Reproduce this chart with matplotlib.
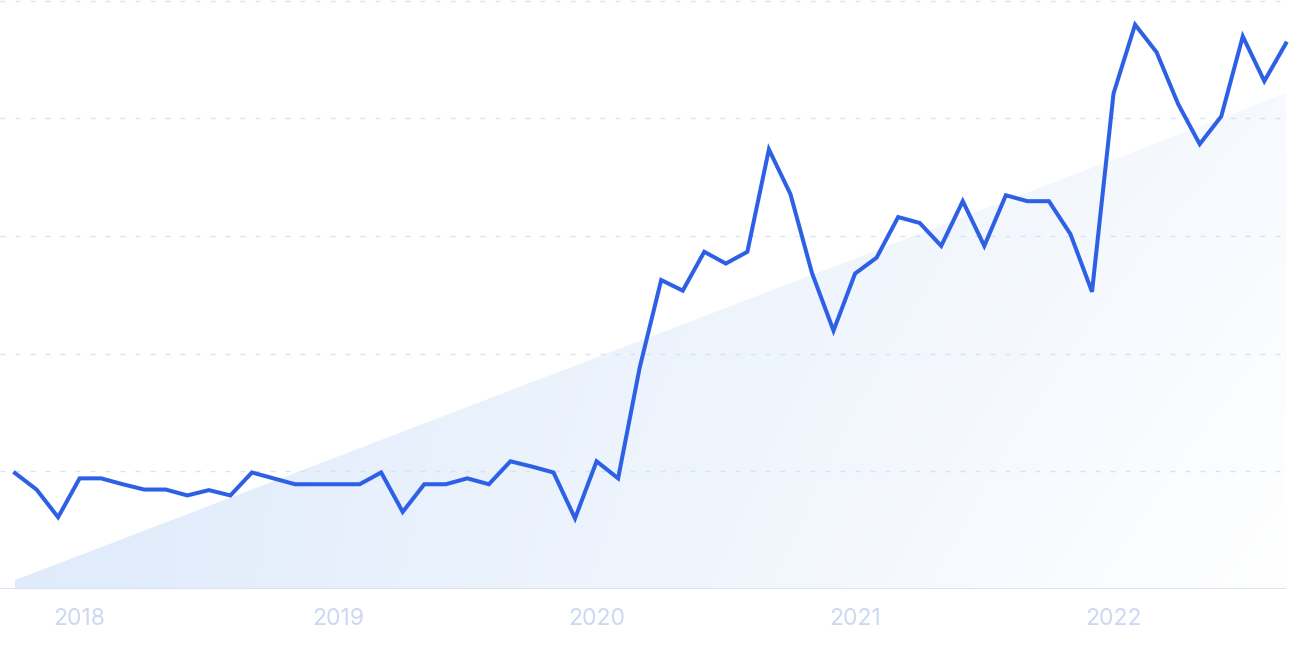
import numpy as np
import matplotlib
matplotlib.use("Agg")
import matplotlib.pyplot as plt
from matplotlib.patches import Polygon
from matplotlib.colors import to_rgb

# ---- data ----
months = list(range(60))  # Oct 2017 .. Sep 2022, monthly
values = [19.7, 16.9, 12.2, 18.8, 18.8, 17.8, 16.9, 16.9, 15.9, 16.8,
          15.9, 19.8, 18.8, 17.8, 17.8, 17.8, 17.8, 19.8, 13.1, 17.8,
          17.8, 18.8, 17.8, 21.7, 20.8, 19.8, 12.0, 21.7, 18.8, 37.6,
          52.5, 50.7, 57.3, 55.3, 57.3, 74.7, 67.1, 53.7, 43.9, 53.6,
          56.3, 63.2, 62.2, 58.3, 65.9, 58.3, 66.9, 65.9, 65.9, 60.3,
          50.5, 84.2, 95.9, 91.2, 82.4, 75.6, 80.3, 93.9, 86.3, 92.7]
trend_start = 1.5
trend_end = 84.2
year_ticks = [3, 15, 27, 39, 51]
year_labels = ["2018", "2019", "2020", "2021", "2022"]
grid_values = [20, 40, 60, 80, 100]

W, H = 1290, 645
fig = plt.figure(figsize=(W / 100, H / 100), dpi=100)
px = 21.54
x0 = -15 / px
ax_w = 1286
ax_h = 588.5
ax = fig.add_axes([0, 56 / H, ax_w / W, ax_h / H])
ax.set_xlim(x0, x0 + ax_w / px)
ax.set_ylim(0, 100)
for s in ax.spines.values():
    s.set_visible(False)

# gradient trend fill
xs0, xs1 = months[0], months[-1]
poly = Polygon([(xs0, 0), (xs0, trend_start), (xs1, trend_end), (xs1, 0)],
               closed=True, facecolor="none", edgecolor="none")
ax.add_patch(poly)
ny, nx = 200, 400
u = np.linspace(0, 1, nx)[None, :]
v = np.linspace(0, 1, ny)[:, None]  # 0 top, 1 bottom
t = np.clip(u * (0.72 + 0.28 * v), 0, 1)
blue = np.array(to_rgb("#dfebfb"))
img = blue[None, None, :] * (1 - t[..., None]) + np.ones(3)[None, None, :] * t[..., None]
im = ax.imshow(img, extent=[xs0, xs1, 0, trend_end], origin="upper",
               aspect="auto", zorder=1, interpolation="bilinear")
im.set_clip_path(poly)

# grid lines
for g in grid_values:
    ax.axhline(g, color="#d8e3f2", lw=1.0, linestyle=(0, (3.6, 7.2)),
               zorder=2, clip_on=False)
ax.axhline(0, color="#d6e1f5", lw=1.3, zorder=2)

# main line
ax.plot(months, values, color="#2d60e5", lw=2.9, zorder=3,
        solid_joinstyle="miter", clip_on=False)

ax.set_xticks(year_ticks)
ax.set_xticklabels(year_labels)
ax.set_yticks([])
ax.tick_params(axis="x", length=0, pad=14, labelsize=16.5, labelcolor="#ccd8f2")
for lbl in ax.get_xticklabels():
    lbl.set_fontfamily("Inter")

fig.savefig("out.png", dpi=100, facecolor="white")
